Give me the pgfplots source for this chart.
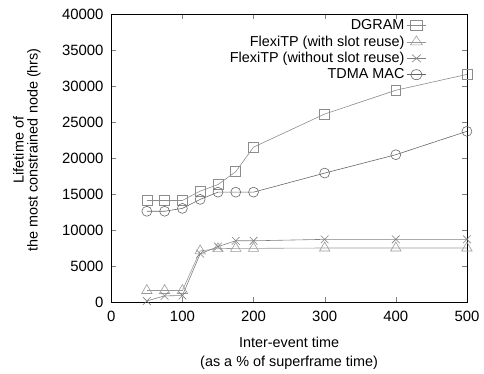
\documentclass[border=0pt]{standalone}
\usepackage{fontspec}
\setmainfont{Liberation Sans}
\usepackage{pgfplots}
\pgfplotsset{compat=1.18}
\begin{document}
\fontsize{14bp}{16bp}\selectfont
\begin{tikzpicture}
\begin{axis}[
  scale only axis,
  width=358bp, height=290bp,
  xmin=0, xmax=500, ymin=0, ymax=40000,
  xtick={0,100,...,500},
  ytick={0,5000,...,40000},
  tick align=inside,
  tick pos=both,
  major tick length=5bp,
  scaled y ticks=false,
  /pgf/number format/assume math mode=true,
  /pgf/number format/set thousands separator={},
  tick label style={font=\fontsize{15bp}{16bp}\selectfont},
  xticklabel style={yshift=-4bp},
  yticklabel style={xshift=-3bp},
  xlabel style={font=\fontsize{14.5bp}{19bp}\selectfont, align=center,
    at={(axis description cs:0.5,-0.177)}, anchor=center},
  ylabel style={font=\fontsize{14.5bp}{14bp}\selectfont, align=center,
    at={(axis description cs:-0.2374,0.5276)}, anchor=center},
  xlabel={Inter-event time\\(as a \% of superframe time)},
  ylabel={Lifetime of\\the most constrained node (hrs)},
  axis line style={black, line width=0.8pt},
  legend style={draw=none, fill=none, at={(0.895,0.995)}, anchor=north east,
    font=\fontsize{14.5bp}{14bp}\selectfont, row sep=0bp},
  legend cell align=right,
  legend plot pos=right,
  legend image post style={xscale=1.15},
  every axis plot/.append style={line width=0.6pt, mark size=5bp},
]
\addplot[color=black!45, mark=square, mark options={solid}] coordinates {
(50,14100) (75,14100) (100,14100) (125,15400) (150,16300) (175,18100) (200,21500) (300,26100) (400,29400) (500,31600)};
\addlegendentry{DGRAM}
\addplot[color=black!40, mark=triangle, mark size=6bp] coordinates {
(50,1600) (75,1600) (100,1600) (125,7100) (150,7400) (175,7450) (200,7450) (300,7500) (400,7500) (500,7500)};
\addlegendentry{FlexiTP (with slot reuse)}
\addplot[color=black!50, mark=x, mark size=5.5bp] coordinates {
(50,150) (75,850) (100,900) (125,6700) (150,7700) (175,8500) (200,8500) (300,8700) (400,8700) (500,8700)};
\addlegendentry{FlexiTP (without slot reuse)}
\addplot[color=black!60, mark=o] coordinates {
(50,12600) (75,12600) (100,13000) (125,14250) (150,15250) (175,15250) (200,15250) (300,17900) (400,20450) (500,23700)};
\addlegendentry{TDMA MAC}
\end{axis}
\path (current axis.south west) ++(-112bp,-67bp) coordinate (bbA);
\path (current axis.north east) ++(14bp,14bp) coordinate (bbB);
\path (bbA) rectangle (bbB);
\end{tikzpicture}
\end{document}
